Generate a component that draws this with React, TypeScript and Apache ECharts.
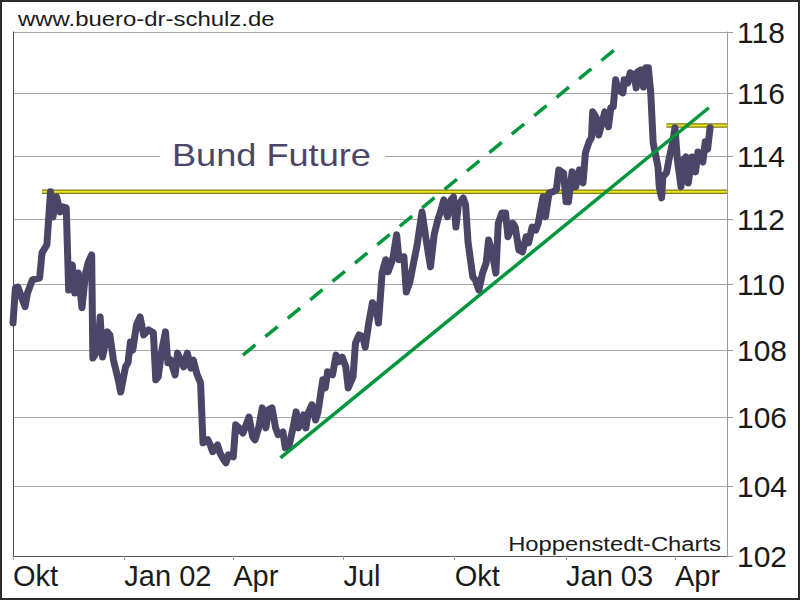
import React, { useEffect, useRef } from "react";
import * as echarts from "echarts";

// ---- Data ----
const priceDates = [
  "2001-10-01","2001-10-03","2001-10-05","2001-10-11","2001-10-13","2001-10-17","2001-10-23","2001-10-25","2001-10-29","2001-11-01",
  "2001-11-03","2001-11-06","2001-11-09","2001-11-11","2001-11-14","2001-11-16","2001-11-19","2001-11-21","2001-11-24","2001-11-27",
  "2001-11-30","2001-12-02","2001-12-05","2001-12-06","2001-12-10","2001-12-12","2001-12-14","2001-12-18","2001-12-20","2001-12-23",
  "2001-12-27","2001-12-29","2002-01-02","2002-01-04","2002-01-06","2002-01-08","2002-01-11","2002-01-14","2002-01-17","2002-01-21",
  "2002-01-25","2002-01-27","2002-01-29","2002-02-01","2002-02-04","2002-02-06","2002-02-08","2002-02-12","2002-02-14","2002-02-19",
  "2002-02-22","2002-02-25","2002-02-27","2002-03-02","2002-03-05","2002-03-07","2002-03-11","2002-03-13","2002-03-15","2002-03-19",
  "2002-03-21","2002-03-24","2002-03-26","2002-03-28","2002-04-01","2002-04-03","2002-04-05","2002-04-09","2002-04-11","2002-04-14",
  "2002-04-17","2002-04-19","2002-04-22","2002-04-25","2002-04-28","2002-04-30","2002-05-03","2002-05-06","2002-05-08","2002-05-12",
  "2002-05-14","2002-05-17","2002-05-20","2002-05-23","2002-05-25","2002-05-29","2002-05-31","2002-06-02","2002-06-05","2002-06-08",
  "2002-06-10","2002-06-14","2002-06-16","2002-06-18","2002-06-22","2002-06-25","2002-06-27","2002-06-30","2002-07-03","2002-07-05",
  "2002-07-09","2002-07-11","2002-07-14","2002-07-17","2002-07-19","2002-07-22","2002-07-25","2002-07-28","2002-07-30","2002-08-02",
  "2002-08-05","2002-08-07","2002-08-11","2002-08-14","2002-08-16","2002-08-20","2002-08-22","2002-08-25","2002-08-28","2002-08-31",
  "2002-09-02","2002-09-04","2002-09-07","2002-09-11","2002-09-14","2002-09-17","2002-09-19","2002-09-22","2002-09-25","2002-09-28",
  "2002-09-30","2002-10-02","2002-10-04","2002-10-08","2002-10-10","2002-10-12","2002-10-14","2002-10-16","2002-10-18","2002-10-21",
  "2002-10-24","2002-10-27","2002-10-29","2002-11-01","2002-11-04","2002-11-06","2002-11-09","2002-11-12","2002-11-14","2002-11-18",
  "2002-11-20","2002-11-23","2002-11-26","2002-11-29","2002-12-01","2002-12-04","2002-12-07","2002-12-09","2002-12-13","2002-12-15",
  "2002-12-18","2002-12-21","2002-12-24","2002-12-26","2002-12-30","2003-01-01","2003-01-03","2003-01-06","2003-01-09","2003-01-12",
  "2003-01-15","2003-01-17","2003-01-20","2003-01-22","2003-01-23","2003-01-26","2003-01-28","2003-01-31","2003-02-02","2003-02-05",
  "2003-02-07","2003-02-09","2003-02-11","2003-02-13","2003-02-17","2003-02-18","2003-02-21","2003-02-23","2003-02-26","2003-02-28",
  "2003-03-01","2003-03-04","2003-03-06","2003-03-08","2003-03-10","2003-03-12","2003-03-14","2003-03-18","2003-03-19","2003-03-21",
  "2003-03-22","2003-03-25","2003-03-27","2003-03-30","2003-04-01","2003-04-03","2003-04-06","2003-04-08","2003-04-10","2003-04-12",
  "2003-04-15","2003-04-18","2003-04-20","2003-04-24","2003-04-26","2003-04-28","2003-04-30"
];
const priceValues = [
  108.83,109.89,109.92,109.32,109.74,110.14,110.2,110.97,111.22,112.87,
  112.08,112.71,112.24,112.4,112.37,109.83,110.6,109.74,110.35,109.29,
  110.35,110.66,110.91,107.77,108.01,109.01,107.8,108.56,108.47,107.71,
  107.12,106.76,107.51,107.63,108.25,108.01,108.77,109.01,108.47,108.62,
  108.53,107.12,107.21,108.01,108.56,107.63,107.72,107.27,107.92,107.51,
  107.92,107.47,107.71,107.29,107.03,105.26,105.35,105.2,105.0,105.2,
  104.97,104.77,104.68,104.91,104.85,105.79,105.73,105.55,105.73,106.02,
  105.44,105.35,105.7,106.29,105.7,106.23,106.29,105.7,105.5,105.58,
  105.12,105.15,105.64,106.17,105.7,106.08,105.7,106.14,106.38,105.93,
  106.17,107.12,106.88,107.36,107.27,107.86,107.66,107.8,107.51,106.88,
  107.21,108.22,108.47,108.41,108.1,108.83,109.44,109.32,108.83,110.35,
  110.76,110.39,110.82,111.53,110.76,110.85,109.77,110.08,110.66,111.22,
  111.74,112.24,111.47,110.54,111.53,111.99,112.21,112.62,112.09,112.62,
  112.71,111.77,112.46,112.68,112.46,111.31,110.76,110.23,110.14,109.83,
  110.35,110.66,111.37,110.97,110.35,111.89,112.21,112.21,111.47,111.89,
  111.77,111.06,111.0,111.47,111.28,111.77,111.68,111.89,112.71,112.09,
  112.84,112.87,112.93,113.56,113.46,112.56,112.56,113.5,113.03,113.56,
  113.15,114.1,114.45,114.58,115.41,115.22,114.67,115.09,115.41,114.93,
  115.54,115.57,116.44,116.11,116.02,116.44,116.34,116.67,116.6,116.18,
  116.7,116.76,116.21,116.83,116.83,116.02,114.42,113.65,113.03,112.68,
  113.34,113.47,113.88,114.42,114.9,113.88,113.03,113.88,113.97,113.15,
  113.97,113.5,114.13,113.81,114.45,114.22,114.9
];

const xTickDates = ["2001-10-01","2002-01-01","2002-04-01","2002-07-01","2002-10-01","2003-01-01","2003-04-01"];
const xTickLabels = ["Okt","Jan 02","Apr","Jul","Okt","Jan 03","Apr"];
const xMin = "2001-10-01";
const xMax = "2003-05-14";
const yTickValues = [102,104,106,108,110,112,114,116,118];
const yMin = 102;
const yMax = 118;

const resistanceLevels = [112.87, 114.97];
const resistanceStarts = ["2001-10-25", "2003-03-25"];
const trendDates = ["2002-05-10", "2003-04-29"];
const trendValues = [104.82, 115.54];
const channelDates = ["2002-04-09", "2003-02-11"];
const channelValues = [107.86, 117.45];

const FONT = "Liberation Sans";
const L = (v: number) => Math.log(v);
// date string -> timestamp (UTC midnight)
const T = (s: string) => {
  const [y, m, d] = s.split("-").map(Number);
  return Date.UTC(y, m - 1, d);
};

export default function App() {
  const ref = useRef<HTMLDivElement>(null);
  useEffect(() => {
    if (!ref.current) return;
    const chart = echarts.init(ref.current, undefined, { renderer: "svg" });

    const resSeries: any[] = [];
    resistanceLevels.forEach((lv, i) => {
      const data = [[T(resistanceStarts[i]), L(lv)], [T(xMax), L(lv)]];
      resSeries.push({
        type: "line", data, symbol: "none", silent: true, z: 2,
        lineStyle: { color: "#7f7c1c", width: 4.5, cap: "butt" },
      });
      resSeries.push({
        type: "line", data, symbol: "none", silent: true, z: 2,
        lineStyle: { color: "#ece61a", width: 2, cap: "butt" },
      });
    });

    const priceData = priceDates.map((d, i) => [T(d), L(priceValues[i])]);
    const trendData = trendDates.map((d, i) => [T(d), L(trendValues[i])]);
    const channelData = channelDates.map((d, i) => [T(d), L(channelValues[i])]);
    const yTicksLog = yTickValues.map(L);
    const xTicksTs = xTickDates.map(T);

    chart.setOption({
      animation: false,
      backgroundColor: "#ffffff",
      grid: { left: 13, right: 73, top: 32, bottom: 44, containLabel: false },
      xAxis: {
        type: "value",
        min: T(xMin),
        max: T(xMax),
        axisLine: { show: true, onZero: false, lineStyle: { color: "#555555", width: 1 } },
        axisTick: { show: true, customValues: xTicksTs, length: 4, lineStyle: { color: "#9a9a9a" } },
        axisLabel: {
          customValues: xTicksTs,
          formatter: (val: number) => {
            const i = xTicksTs.indexOf(val);
            return i >= 0 ? xTickLabels[i] : "";
          },
          align: "left",
          margin: 5,
          fontSize: 29,
          fontFamily: FONT,
          color: "#1a1a1a",
          showMinLabel: true,
          showMaxLabel: true,
          hideOverlap: false,
        },
        splitLine: { show: false },
      },
      yAxis: [
        {
          type: "value",
          position: "right",
          min: L(yMin),
          max: L(yMax),
          axisLine: { show: true, lineStyle: { color: "#9a9a9a", width: 1 } },
          axisTick: { show: true, customValues: yTicksLog, length: 6, lineStyle: { color: "#9a9a9a" } },
          axisLabel: {
            customValues: yTicksLog,
            formatter: (v: number) => String(Math.round(Math.exp(v))),
            margin: 10,
            fontSize: 30,
            fontFamily: FONT,
            color: "#1a1a1a",
            showMinLabel: true,
            showMaxLabel: true,
          },
          splitLine: { show: true, lineStyle: { color: "#a8a8a8", width: 1 } },
        },
        {
          type: "value",
          position: "left",
          min: L(yMin),
          max: L(yMax),
          axisLine: { show: true, lineStyle: { color: "#505050", width: 1 } },
          axisTick: { show: false },
          axisLabel: { show: false },
          splitLine: { show: false },
        },
      ],
      series: [
        ...resSeries,
        {
          name: "Bund Future",
          type: "line",
          data: priceData,
          symbol: "none",
          silent: true,
          z: 3,
          lineStyle: { color: "#4b4668", width: 7, join: "round", cap: "round" },
        },
        {
          type: "line",
          data: trendData,
          symbol: "none",
          silent: true,
          z: 4,
          lineStyle: { color: "#00963c", width: 3.5 },
        },
        {
          type: "line",
          data: channelData,
          symbol: "none",
          silent: true,
          z: 4,
          lineStyle: { color: "#00963c", width: 3.5, type: [16, 13] },
        },
      ],
      graphic: [
        {
          type: "rect", z: 100, silent: true,
          shape: { x: 1, y: 1, width: 798, height: 598 },
          style: { fill: "none", stroke: "#2b2b2b", lineWidth: 2 },
        },
        {
          type: "text", x: 18, y: 8, scaleX: 1.14, z: 100,
          style: { text: "www.buero-dr-schulz.de", font: `21px "${FONT}"`, fill: "#1a1a1a", textAlign: "left", textVerticalAlign: "top" },
        },
        {
          type: "rect", z: 99, silent: true,
          shape: { x: 160, y: 146, width: 225, height: 20 },
          style: { fill: "#ffffff" },
        },
        {
          type: "text", x: 172, y: 139, scaleX: 1.13, z: 100,
          style: { text: "Bund Future", font: `32px "${FONT}"`, fill: "#4b4668", textAlign: "left", textVerticalAlign: "top" },
        },
        {
          type: "text", x: 721, y: 534, scaleX: 1.19, z: 100,
          style: { text: "Hoppenstedt-Charts", font: `20px "${FONT}"`, fill: "#1a1a1a", textAlign: "right", textVerticalAlign: "top" },
        },
      ],
    });
    return () => chart.dispose();
  }, []);
  return (
    <div
      ref={ref}
      style={{ position: "fixed", left: 0, top: 0, width: 800, height: 600, background: "#fff" }}
    />
  );
}
